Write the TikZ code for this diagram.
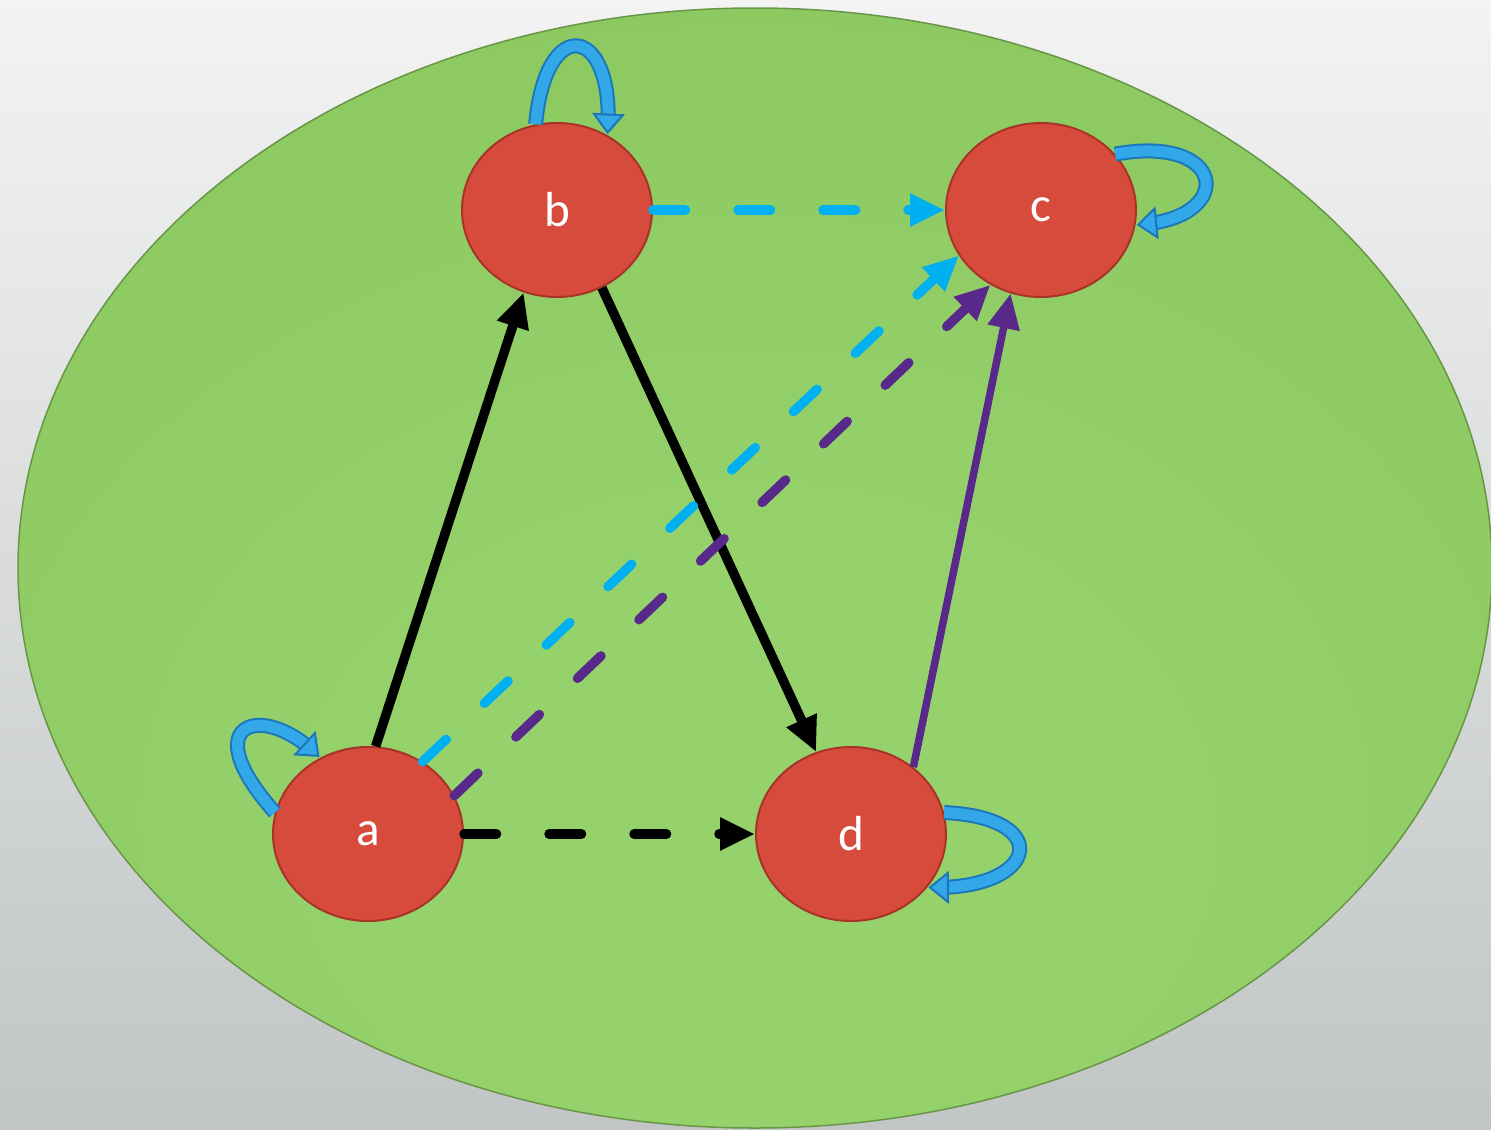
\documentclass[tikz,border=0pt]{standalone}
\usepackage{fontspec}
\setmainfont{Carlito}
\usetikzlibrary{arrows.meta,shapes.geometric}
\definecolor{bgtop}{RGB}{243,243,243}
\definecolor{bgbottom}{RGB}{193,197,197}
\definecolor{fieldin}{RGB}{150,210,108}
\definecolor{fieldmid}{RGB}{138,199,94}
\definecolor{fieldout}{RGB}{122,184,76}
\definecolor{fieldedge}{RGB}{104,150,70}
\definecolor{statered}{RGB}{214,75,60}
\definecolor{stateedge}{RGB}{168,52,40}
\definecolor{linkcyan}{RGB}{0,176,240}
\definecolor{linkpurple}{RGB}{88,40,138}
\definecolor{loopblue}{RGB}{50,168,232}
\definecolor{loopedge}{RGB}{28,118,186}
\pgfdeclareradialshading{field}{\pgfpoint{0bp}{-14bp}}{color(0bp)=(fieldin);color(12bp)=(fieldin);color(40bp)=(fieldmid);color(62bp)=(fieldout);color(100bp)=(fieldout)}
\tikzset{
	state/.style={ellipse,fill=statered,draw=stateedge,line width=0.4mm,minimum width=38mm,minimum height=34.8mm,inner sep=0,text=white,font=\fontsize{28}{34}\selectfont},
	link/.style={line width=1.9mm,-{Triangle[length=7mm,width=6.2mm]}},
	dashlink/.style={link,line cap=round,dash pattern=on 6.5mm off 10.5mm},
	selfloop/.style={preaction={draw=loopedge,line width=0.4mm,double=loopblue,double distance=2.2mm,shorten >=2mm}},
	loophead/.style={pos=1,sloped,allow upside down,isosceles triangle,isosceles triangle stretches,minimum width=5.8mm,minimum height=3.6mm,inner sep=0,fill=loopblue,draw=loopedge,line width=0.4mm,anchor=apex}
}
\begin{document}
\begin{tikzpicture}[x=0.2mm,y=-0.2mm]
	\useasboundingbox (0,0) rectangle (1491,1130);
	\shade[top color=bgtop,bottom color=bgbottom] (0,0) rectangle (1491,1130);
	\shade[shading=field] (755,568) ellipse [x radius=737,y radius=560];
	\draw[fieldedge,line width=0.3mm] (755,568) ellipse [x radius=737,y radius=560];
	\node[state] (a) at (368,834) {a};
	\node[state] (b) at (557,210) {b};
	\node[state] (c) at (1041,210) {c};
	\node[state] (d) at (851,834) {d};
	\draw[link,black] (a.85) -- (b.248);
	\draw[link,black] (b.300) -- (d.113);
	\draw[dashlink,black] (a.east) -- (d.west);
	\draw[dashlink,linkcyan] (b.east) -- (c.west);
	\draw[dashlink,linkcyan] (a.53) -- (c.209);
	\draw[dashlink,linkpurple] (a.24) -- (c.236);
	\draw[link,linkpurple,line width=1.5mm] (d.47) -- (c.250);
	\path[selfloop] (b.104) .. controls +(10,-110) and +(5,-110) .. (b.56) node[loophead]{};
	\path[selfloop] (c.37) .. controls +(110,-20) and +(100,-10) .. (c.351) node[loophead]{};
	\path[selfloop] (a.167) .. controls +(-80,-90) and +(-60,-55) .. (a.122) node[loophead]{};
	\path[selfloop] (d.13) .. controls +(110,5) and +(110,0) .. (d.325) node[loophead]{};
\end{tikzpicture}
\end{document}
